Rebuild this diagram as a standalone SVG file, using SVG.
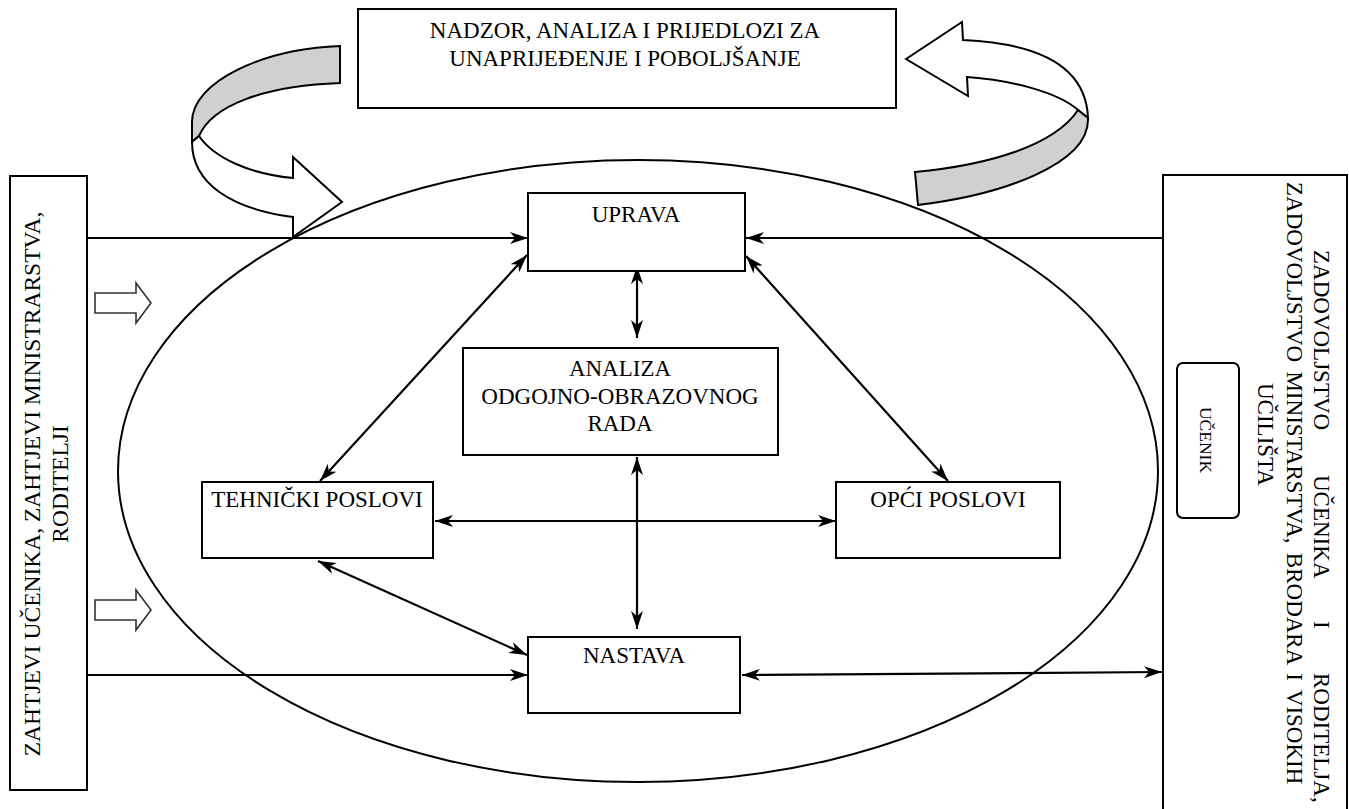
<svg xmlns="http://www.w3.org/2000/svg" width="1349" height="809" viewBox="0 0 1349 809">
  <defs>
    <style>
      .box{fill:#fff;stroke:#000;stroke-width:2}
      .t{font-family:"Liberation Serif","Times New Roman",serif;font-size:23px;fill:#000}
      .c{text-anchor:middle}
      .ln{stroke:#000;stroke-width:2.2;fill:none}
      .rib{stroke:#000;stroke-width:2;stroke-linejoin:miter}
      .blk{fill:#fff;stroke:#333;stroke-width:1.6}
    </style>
    <marker id="ah" viewBox="0 0 18 12" refX="18" refY="6" markerWidth="18" markerHeight="12" markerUnits="userSpaceOnUse" orient="auto-start-reverse">
      <path d="M0,0 L18,6 L0,12 L5,6 Z" fill="#000"/>
    </marker>
  </defs>
  <rect width="1349" height="809" fill="#fff"/>

  <!-- large ellipse enclosing the school processes -->
  <ellipse id="process-ellipse" cx="638" cy="471" rx="520" ry="311" fill="none" stroke="#000" stroke-width="2"/>

  <!-- feedback ribbons -->
  <g id="feedback-left">
    <path class="rib" fill="#d0d0d0" d="M340,46 C262,49 192,82 192,122 L192,142 L199,136 C212,106 262,86 340,83 Z"/>
    <path class="rib" fill="#fff" d="M199,136 C214,158 250,174 293,178 L293,157 L342,202 L293,237 L293,217 C232,209 192,184 192,142 Z"/>
  </g>
  <g id="feedback-right">
    <path class="rib" fill="#fff" d="M906,59 L962,22 L963,40 C1030,43 1086,62 1088,118 L1078,110 C1058,92 1010,80 967,77 L968,96 Z"/>
    <path class="rib" fill="#d0d0d0" d="M1078,110 L1088,118 C1090,165 1000,195 918,205 L915,172 C990,165 1055,145 1078,110 Z"/>
  </g>

  <!-- input block arrows -->
  <g id="input-arrows">
    <path class="blk" d="M95,293 L136,293 L136,283 L151,303 L136,323 L136,313 L95,313 Z"/>
    <path class="blk" d="M95,600 L136,600 L136,590 L151,610 L136,630 L136,620 L95,620 Z"/>
  </g>

  <!-- connectors -->
  <g id="connectors" class="ln">
    <line x1="88" y1="238" x2="528" y2="238" marker-end="url(#ah)"/>
    <line x1="1163" y1="238" x2="746" y2="238" marker-end="url(#ah)"/>
    <line x1="637" y1="266" x2="637" y2="338" marker-start="url(#ah)" marker-end="url(#ah)"/>
    <line x1="527" y1="255" x2="320" y2="481" marker-start="url(#ah)" marker-end="url(#ah)"/>
    <line x1="746" y1="256" x2="948" y2="481" marker-start="url(#ah)" marker-end="url(#ah)"/>
    <line x1="435" y1="521" x2="836" y2="521" marker-start="url(#ah)" marker-end="url(#ah)"/>
    <line x1="637" y1="457" x2="637" y2="629" marker-start="url(#ah)" marker-end="url(#ah)"/>
    <line x1="318" y1="561" x2="527" y2="655" marker-start="url(#ah)" marker-end="url(#ah)"/>
    <line x1="88" y1="675" x2="528" y2="675" marker-end="url(#ah)"/>
    <line x1="742" y1="675" x2="1162" y2="672" marker-start="url(#ah)" marker-end="url(#ah)"/>
  </g>

  <!-- nodes -->
  <g id="node-nadzor">
    <rect class="box" x="358" y="9" width="538" height="99"/>
    <text class="t c" x="625" y="38">NADZOR, ANALIZA I PRIJEDLOZI ZA</text>
    <text class="t c" x="625" y="66">UNAPRIJEĐENJE I POBOLJŠANJE</text>
  </g>

  <g id="node-zahtjevi">
    <rect class="box" x="10" y="176" width="77" height="614"/>
    <text class="t c" style="font-size:23.5px" transform="translate(40,484) rotate(-90)">ZAHTJEVI UČENIKA, ZAHTJEVI MINISTRARSTVA,</text>
    <text class="t c" style="font-size:23.5px" transform="translate(68,484) rotate(-90)">RODITELJI</text>
  </g>

  <g id="node-zadovoljstvo">
    <rect class="box" x="1163" y="175" width="184" height="650"/>
    <!-- justified paragraph: words placed along the rotated baseline -->
    <text class="t" transform="translate(1314,0) rotate(90)"><tspan x="250">ZADOVOLJSTVO</tspan><tspan x="475">UČENIKA</tspan><tspan x="621">I</tspan><tspan x="673">RODITELJA,</tspan></text>
    <text class="t" style="word-spacing:3.5px" transform="translate(1287,182) rotate(90)">ZADOVOLJSTVO MINISTARSTVA, BRODARA I VISOKIH</text>
    <text class="t" transform="translate(1258,383) rotate(90)">UČILIŠTA</text>
  </g>

  <g id="node-ucenik">
    <rect class="box" x="1177" y="363" width="62" height="155" rx="6"/>
    <text class="t c" style="font-size:17.5px" transform="translate(1200,440) rotate(90)">UČENIK</text>
  </g>

  <g id="node-uprava">
    <rect class="box" x="528" y="193" width="217" height="78"/>
    <text class="t c" x="636" y="222">UPRAVA</text>
  </g>

  <g id="node-analiza">
    <rect class="box" x="463" y="348" width="315" height="107"/>
    <text class="t c" x="620" y="376">ANALIZA</text>
    <text class="t c" x="620" y="404">ODGOJNO-OBRAZOVNOG</text>
    <text class="t c" x="620" y="431">RADA</text>
  </g>

  <g id="node-tehnicki">
    <rect class="box" x="202" y="482" width="231" height="76"/>
    <text class="t c" x="317" y="507">TEHNIČKI POSLOVI</text>
  </g>

  <g id="node-opci">
    <rect class="box" x="836" y="482" width="224" height="76"/>
    <text class="t c" x="948" y="507">OPĆI POSLOVI</text>
  </g>

  <g id="node-nastava">
    <rect class="box" x="528" y="637" width="212" height="76"/>
    <text class="t c" x="634" y="663">NASTAVA</text>
  </g>
</svg>
